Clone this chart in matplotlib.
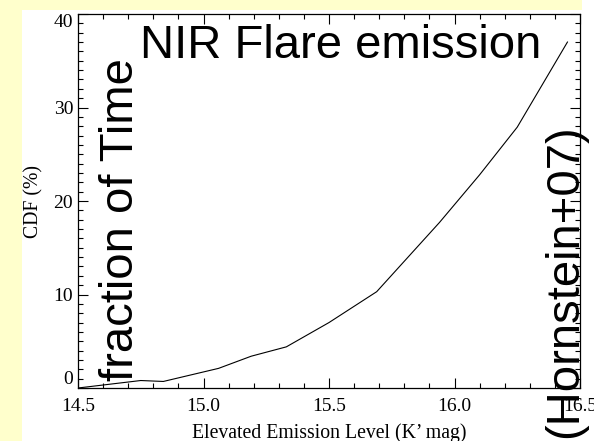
import matplotlib
matplotlib.use("Agg")
import matplotlib.pyplot as plt
from matplotlib.patches import Rectangle
from matplotlib.ticker import MultipleLocator, FormatStrFormatter

# Cumulative distribution of elevated NIR emission level
kmag = [14.50, 14.75, 14.84, 15.06, 15.19, 15.33, 15.50, 15.69, 15.94, 16.10, 16.25, 16.45]
cdf_pct = [0.0, 0.8, 0.7, 2.1, 3.4, 4.4, 7.0, 10.3, 17.7, 22.8, 27.9, 37.0]

x_ticks = [14.5, 15.0, 15.5, 16.0, 16.5]
y_ticks = [0, 10, 20, 30, 40]

W, H = 594, 441
fig = plt.figure(figsize=(W / 100, H / 100), dpi=100, facecolor="white")

# slide background strips
bg = "#FFFFCC"
fig.patches.append(Rectangle((0, 0), 22 / W, 1, transform=fig.transFigure,
                             facecolor=bg, edgecolor="none", zorder=0))
fig.patches.append(Rectangle((0, 1 - 10 / H), 582 / W, 10 / H, transform=fig.transFigure,
                             facecolor=bg, edgecolor="none", zorder=0))

left, right, top, bottom = 78, 580, 14, 388
ax = fig.add_axes([left / W, (H - bottom) / H, (right - left) / W, (bottom - top) / H])
ax.set_facecolor("white")

ax.plot(kmag, cdf_pct, color="black", lw=0.8)

ax.set_xlim(14.5, 16.5)
ax.set_ylim(0, 40)
ax.set_xticks(x_ticks)
ax.set_yticks(y_ticks)
ax.xaxis.set_major_formatter(FormatStrFormatter("%.1f"))
ax.xaxis.set_minor_locator(MultipleLocator(0.1))
ax.yaxis.set_minor_locator(MultipleLocator(1))

serif = "Liberation Serif"
sans = "Liberation Sans"
ax.tick_params(which="both", direction="in", top=True, right=True, colors="black", width=0.8)
ax.tick_params(which="major", length=7.5)
ax.tick_params(which="minor", length=3.5)
ax.tick_params(axis="x", which="major", pad=7.5)
ax.tick_params(axis="y", which="major", pad=3.5)
for lab in ax.get_xticklabels() + ax.get_yticklabels():
    lab.set_fontfamily(serif)
    lab.set_fontsize(14)
ylabs = ax.get_yticklabels()
ylabs[0].set_va("bottom")
ylabs[-1].set_va("top")
for sp in ax.spines.values():
    sp.set_linewidth(0.9)

# axis titles
fig.text(329 / W, 1 - 438 / H, "Elevated Emission Level (K\u2019 mag)", family=serif,
         fontsize=14.2, ha="center", va="baseline")
fig.text(38 / W, 1 - 201 / H, "CDF (%)", family=serif, fontsize=14.2, rotation=90,
         rotation_mode="anchor", ha="center", va="baseline")

# large annotations
fig.text(341 / W, 1 - 58 / H, "NIR Flare emission", family=sans, fontsize=34,
         ha="center", va="baseline")
fig.text(133 / W, 1 - 220 / H, "fraction of Time", family=sans, fontsize=34, rotation=90,
         rotation_mode="anchor", ha="center", va="baseline")
fig.text(577 / W, 1 - 281 / H, "(Hornstein+07)", family=sans, fontsize=34, rotation=90,
         rotation_mode="anchor", ha="center", va="baseline")

fig.savefig("out.png", dpi=100, facecolor="white")
